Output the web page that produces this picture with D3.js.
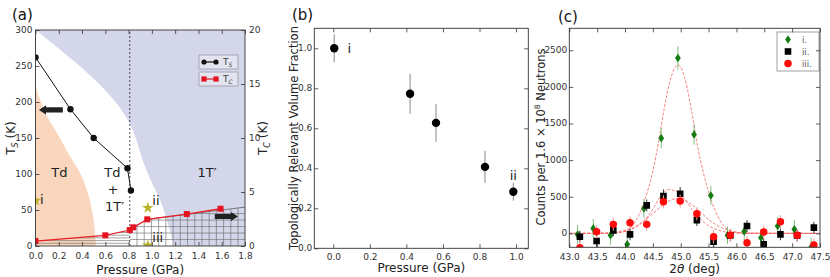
<!DOCTYPE html>
<html>
<head>
<meta charset="utf-8">
<script src="https://cdn.jsdelivr.net/npm/d3@7"></script>
<style>
  body { margin: 0; background: #fff; }
  svg { display: block; font-family: "DejaVu Sans", sans-serif; }
  .tick text { fill: #333; font-size: 9px; font-family: "DejaVu Sans", sans-serif; }
  .tick line { stroke: #333; stroke-width: 0.8; }
</style>
</head>
<body>
<svg id="chart" width="830" height="277"></svg>
<script>
// ---- panel (a): phase diagram ----
const tsPressure = [0.0, 0.3, 0.5, 0.79, 0.82];
const tsValues = [262, 190, 150, 108, 77];
const tcPressure = [0.0, 0.6, 0.81, 0.84, 0.96, 1.3, 1.59];
const tcValues = [0.46, 0.99, 1.48, 1.73, 2.47, 2.96, 3.45];
const starPressure = [0.0, 0.965, 0.965];
const starTemps = [63, 53, 1];
// phase boundaries, [pressure, T_S]
const orangeEdge = [[0, 222], [0.04, 203], [0.1, 180], [0.17, 161], [0.28, 129], [0.41, 92], [0.49, 46], [0.52, 0]];
const blueEdge = [[0, 300], [0.81, 170], [0.85, 155], [0.93, 115], [1.0, 88], [1.06, 68], [1.13, 36], [1.19, 0]];
// upper edge of the grid hatched area, [pressure, T_C]
const gridTop = [[0.81, 1.48], [0.84, 1.73], [0.96, 2.47], [1.8, 3.6]];
const transitionP = 0.81;

// ---- panel (b): volume fraction ----
const fracPressure = [0.005, 0.42, 0.562, 0.83, 0.985];
const fracValues = [1.0, 0.773, 0.627, 0.407, 0.283];
const fracErrors = [0.07, 0.1, 0.095, 0.08, 0.045];
const fracLabels = ["i", "", "", "", "ii"];

// ---- panel (c): neutron counts ----
const thetaI = [43.15, 43.43, 43.74, 44.04, 44.34, 44.65, 44.95, 45.24, 45.54, 45.84, 46.14, 46.44, 46.74, 47.04, 47.34];
const thetaII = [43.19, 43.49, 43.79, 44.09, 44.39, 44.69, 44.99, 45.29, 45.59, 45.89, 46.19, 46.49, 46.79, 47.09, 47.39];
const countsI = [-15, 68, -25, -150, 340, 1300, 2395, 1350, 518, -25, 27, -60, 100, 55, -190];
const countsII = [-45, -105, 41, -14, 382, 509, 541, 181, -113, -27, 100, -150, -14, -27, 78];
const countsIII = [-195, 23, 123, 146, 123, 432, 441, 268, -45, -27, -127, 18, 160, -27, -160];
const errI = [130, 130, 130, 120, 130, 140, 160, 140, 130, 120, 120, 120, 130, 130, 130];
const errII = [80, 80, 80, 80, 80, 90, 90, 80, 80, 80, 80, 80, 80, 80, 80];
const errIII = [90, 90, 90, 90, 90, 90, 90, 90, 90, 90, 90, 90, 90, 90, 90];
// fitted peaks, [2theta, counts]
const fitI = [[43.0, 0], [43.7, 0], [43.9, 10], [44.05, 50], [44.2, 180], [44.35, 450], [44.5, 850], [44.6, 1240], [44.7, 1690], [44.8, 2060], [44.95, 2300], [45.1, 2040], [45.2, 1650], [45.3, 1200], [45.4, 850], [45.55, 450], [45.7, 180], [45.85, 50], [46.0, 10], [46.2, 0], [47.5, 0]];
const fitII = [[43.0, 0], [43.6, 2], [43.9, 15], [44.1, 50], [44.3, 140], [44.5, 330], [44.65, 520], [44.78, 600], [44.9, 580], [45.05, 490], [45.2, 330], [45.35, 200], [45.5, 105], [45.65, 50], [45.85, 15], [46.2, 2], [47.5, 0]];
const fitIII = [[43.0, 0], [43.6, 5], [43.9, 25], [44.1, 65], [44.3, 150], [44.5, 270], [44.7, 400], [44.92, 475], [45.1, 440], [45.3, 330], [45.5, 190], [45.7, 90], [45.9, 35], [46.2, 5], [47.5, 0]];

const svg = d3.select("#chart");
const defs = svg.append("defs");

function drawAxes(x, y, o) {
	let g = svg.append("g");
	g.append("g")
		.attr("transform", "translate(0," + y.range()[0] + ")")
		.call(d3.axisBottom(x).tickValues(o.xTicks).tickFormat(o.xFormat).tickSizeInner(-4).tickSizeOuter(0).tickPadding(o.xPad || 5));
	g.append("g")
		.attr("transform", "translate(0," + y.range()[1] + ")")
		.call(d3.axisTop(x).tickValues(o.xTicks).tickFormat("").tickSizeInner(-4).tickSizeOuter(0));
	let left = g.append("g")
		.attr("transform", "translate(" + x.range()[0] + ",0)")
		.call(d3.axisLeft(y).tickValues(o.yTicks).tickFormat(o.yFormat).tickSizeInner(-4).tickSizeOuter(0).tickPadding(o.yPad || 3));
	let right = g.append("g")
		.attr("transform", "translate(" + x.range()[1] + ",0)")
		.call(d3.axisRight(o.y2 || y).tickValues(o.y2Ticks || o.yTicks).tickFormat(o.y2 ? o.y2Format : "").tickSizeInner(-4).tickSizeOuter(0).tickPadding(4));
	left.selectAll("text").attr("dy", "0.25em");
	right.selectAll("text").attr("dy", "0.25em");
	g.selectAll(".domain").remove();
	g.append("rect")
		.attr("x", x.range()[0]).attr("y", y.range()[1])
		.attr("width", x.range()[1] - x.range()[0])
		.attr("height", y.range()[0] - y.range()[1])
		.attr("fill", "none").attr("stroke", "#333").attr("stroke-width", 0.9);
	return g;
}

function clipRect(id, x, y) {
	defs.append("clipPath").attr("id", id).append("rect")
		.attr("x", x.range()[0]).attr("y", y.range()[1])
		.attr("width", x.range()[1] - x.range()[0])
		.attr("height", y.range()[0] - y.range()[1]);
}

function panelLabel(text, px, py) {
	svg.append("text").attr("x", px).attr("y", py)
		.attr("font-size", 15).attr("fill", "#111").text(text);
}

// ================= panel (a) =================
const xA = d3.scaleLinear().domain([0, 1.8]).range([35.5, 245]);
const yA = d3.scaleLinear().domain([0, 300]).range([246, 30]);
const yTc = d3.scaleLinear().domain([0, 20]).range([246, 30]);
clipRect("clipA", xA, yA);

const gA = svg.append("g").attr("clip-path", "url(#clipA)");
const toPx = d => [xA(d[0]), yA(d[1])];
const toPxTc = d => [xA(d[0]), yTc(d[1])];

// lavender 1T' region
gA.append("path")
	.attr("d", d3.line().curve(d3.curveMonotoneY)(blueEdge.map(toPx)) + "L" + xA(1.8) + "," + yA(0) + "L" + xA(1.8) + "," + yA(300) + "Z")
	.attr("fill", "#d4d6ea");

// peach Td region
gA.append("path")
	.attr("d", "M" + xA(0) + "," + yA(0) + "L" + d3.line().curve(d3.curveCatmullRom)(orangeEdge.map(toPx)).slice(1) + "Z")
	.attr("fill", "#f9d6bd");

// horizontal hatch below T_C (0 - 0.81 GPa)
let leftHatch = [[0, 0]].concat(tcPressure.slice(0, 3).map((p, i) => [p, tcValues[i]])).concat([[transitionP, 0]]);
defs.append("clipPath").attr("id", "hatchL").append("path")
	.attr("d", d3.line()(leftHatch.map(toPxTc)) + "Z");
gA.append("g").attr("clip-path", "url(#hatchL)")
	.selectAll("line").data(d3.range(0.25, 1.6, 0.25)).join("line")
	.attr("x1", xA(0)).attr("x2", xA(transitionP))
	.attr("y1", d => yTc(d)).attr("y2", d => yTc(d))
	.attr("stroke", "#666").attr("stroke-width", 0.6);

// grid hatch below T_C (0.81 - 1.8 GPa)
let rightHatch = gridTop.concat([[1.8, 0], [transitionP, 0]]);
defs.append("clipPath").attr("id", "hatchR").append("path")
	.attr("d", d3.line()(rightHatch.map(toPxTc)) + "Z");
let gridG = gA.append("g").attr("clip-path", "url(#hatchR)");
gridG.selectAll("line.v").data(d3.range(1, 16).map(k => transitionP + k * 0.062)).join("line")
	.attr("class", "v")
	.attr("x1", d => xA(d)).attr("x2", d => xA(d))
	.attr("y1", yTc(0)).attr("y2", yTc(4))
	.attr("stroke", "#666").attr("stroke-width", 0.6);
gridG.selectAll("line.h").data(d3.range(0.6, 4, 0.6)).join("line")
	.attr("class", "h")
	.attr("x1", xA(transitionP)).attr("x2", xA(1.8))
	.attr("y1", d => yTc(d)).attr("y2", d => yTc(d))
	.attr("stroke", "#666").attr("stroke-width", 0.6);
gA.append("path")
	.attr("d", d3.line()(gridTop.slice(2).map(toPxTc)))
	.attr("fill", "none").attr("stroke", "#555").attr("stroke-width", 0.7);

// dashed transition line
gA.append("line")
	.attr("x1", xA(transitionP)).attr("x2", xA(transitionP))
	.attr("y1", yA(0)).attr("y2", yA(300))
	.attr("stroke", "#222").attr("stroke-width", 0.8).attr("stroke-dasharray", "2,2");

// T_S line + markers
let tsData = tsPressure.map((p, i) => [p, tsValues[i]]);
gA.append("path").attr("d", d3.line()(tsData.map(toPx)))
	.attr("fill", "none").attr("stroke", "#111").attr("stroke-width", 1);
gA.selectAll("circle.ts").data(tsData).join("circle")
	.attr("class", "ts")
	.attr("cx", d => xA(d[0])).attr("cy", d => yA(d[1])).attr("r", 3.2)
	.attr("fill", "#111");

// T_C line + markers
let tcData = tcPressure.map((p, i) => [p, tcValues[i]]);
gA.append("path").attr("d", d3.line()(tcData.map(toPxTc)))
	.attr("fill", "none").attr("stroke", "#e8202a").attr("stroke-width", 1.3);
gA.selectAll("rect.tc").data(tcData).join("rect")
	.attr("class", "tc")
	.attr("x", d => xA(d[0]) - 3).attr("y", d => yTc(d[1]) - 3)
	.attr("width", 6).attr("height", 6)
	.attr("fill", "#e3141f");

// stars
gA.selectAll("path.star").data(starPressure).join("path")
	.attr("class", "star")
	.attr("transform", (d, i) => "translate(" + xA(d) + "," + yA(starTemps[i]) + ")")
	.attr("d", d3.symbol().type(d3.symbolStar).size(42))
	.attr("fill", "#b9b42a");

// phase labels
const phaseText = [
	{t: "Td", p: 0.205, T: 96}, {t: "Td", p: 0.66, T: 96}, {t: "+", p: 0.665, T: 72},
	{t: "1T\u2032", p: 0.68, T: 49}, {t: "1T\u2032", p: 1.475, T: 96},
	{t: "i", p: 0.055, T: 58}, {t: "ii", p: 1.035, T: 57}, {t: "iii", p: 1.05, T: 5}
];
svg.selectAll("text.phase").data(phaseText).join("text")
	.attr("class", "phase")
	.attr("x", d => xA(d.p)).attr("y", d => yA(d.T))
	.attr("text-anchor", "middle").attr("font-size", 13).attr("fill", "#222")
	.text(d => d.t);

// block arrows
function blockArrow(x0, x1, yc) {
	let dir = x1 > x0 ? 1 : -1, head = 7 * dir;
	let pts = [[x0, yc - 2.6], [x1 - head, yc - 2.6], [x1 - head, yc - 4.6], [x1, yc], [x1 - head, yc + 4.6], [x1 - head, yc + 2.6], [x0, yc + 2.6]];
	svg.append("path").attr("d", d3.line()(pts) + "Z").attr("fill", "#222");
}
blockArrow(xA(0.235), xA(0.03), yA(189));
blockArrow(xA(1.54), xA(1.74), yTc(2.73));

// legend (a)
const legendA = [{label: "S", color: "#111", shape: "circle"}, {label: "C", color: "#e3141f", shape: "square"}];
legendA.forEach(function(d, i) {
	let y0 = 55 + i * 17;
	let g = svg.append("g");
	g.append("rect").attr("x", 199).attr("y", y0).attr("width", 39).attr("height", 14)
		.attr("fill", "#e3e4ef").attr("stroke", "#9a9aa5").attr("stroke-width", 0.8);
	g.append("line").attr("x1", 204).attr("x2", 216).attr("y1", y0 + 7).attr("y2", y0 + 7)
		.attr("stroke", d.color).attr("stroke-width", 1.2);
	[204, 216].forEach(function(cx) {
		if (d.shape === "circle") g.append("circle").attr("cx", cx).attr("cy", y0 + 7).attr("r", 2.6).attr("fill", d.color);
		else g.append("rect").attr("x", cx - 2.6).attr("y", y0 + 4.4).attr("width", 5.2).attr("height", 5.2).attr("fill", d.color);
	});
	let t = g.append("text").attr("x", 223).attr("y", y0 + 10).attr("font-size", 9).attr("fill", "#444").text("T");
	t.append("tspan").attr("font-size", 6).attr("font-style", "italic").attr("dy", 2).text(d.label);
});

drawAxes(xA, yA, {
	xTicks: d3.range(0, 1.81, 0.2), xFormat: d3.format(".1f"), xPad: 7,
	yTicks: d3.range(0, 301, 50), yFormat: d3.format("d"),
	y2: yTc, y2Ticks: [0, 5, 10, 15, 20], y2Format: d3.format("d")
});

let laA = svg.append("text").attr("transform", "translate(15,138) rotate(-90)")
	.attr("text-anchor", "middle").attr("font-size", 12).attr("fill", "#222");
laA.append("tspan").text("T");
laA.append("tspan").attr("font-size", 8).attr("font-style", "italic").attr("dy", 3).text("S");
laA.append("tspan").attr("dy", -3).text(" (K)");
let laA2 = svg.append("text").attr("transform", "translate(267,138) rotate(-90)")
	.attr("text-anchor", "middle").attr("font-size", 12).attr("fill", "#222");
laA2.append("tspan").text("T");
laA2.append("tspan").attr("font-size", 8).attr("font-style", "italic").attr("dy", 3).text("C");
laA2.append("tspan").attr("dy", -3).text(" (K)");
svg.append("text").attr("x", (xA.range()[0] + xA.range()[1]) / 2).attr("y", 273.5)
	.attr("text-anchor", "middle").attr("font-size", 12).attr("fill", "#222").text("Pressure (GPa)");
panelLabel("(a)", 12, 20);

// ================= panel (b) =================
const xB = d3.scaleLinear().domain([-0.104, 1.067]).range([314.3, 528.3]);
const yB = d3.scaleLinear().domain([0, 1.1]).range([248.3, 28.3]);
const gB = svg.append("g");
gB.selectAll("line.err").data(fracPressure).join("line")
	.attr("class", "err")
	.attr("x1", d => xB(d)).attr("x2", d => xB(d))
	.attr("y1", (d, i) => yB(fracValues[i] - fracErrors[i]))
	.attr("y2", (d, i) => yB(fracValues[i] + fracErrors[i]))
	.attr("stroke", "#888").attr("stroke-width", 1);
gB.selectAll("circle").data(fracPressure).join("circle")
	.attr("cx", d => xB(d)).attr("cy", (d, i) => yB(fracValues[i])).attr("r", 4.2)
	.attr("fill", "#000");
gB.selectAll("text").data(fracPressure).join("text")
	.attr("x", (d, i) => xB(d) + (i === 0 ? 15 : 0))
	.attr("y", (d, i) => yB(fracValues[i]) + (i === 0 ? 5 : -12))
	.attr("text-anchor", "middle").attr("font-size", 13).attr("fill", "#222")
	.text((d, i) => fracLabels[i]);

drawAxes(xB, yB, {
	xTicks: d3.range(0, 1.01, 0.2), xFormat: d3.format(".1f"),
	yTicks: d3.range(0, 1.01, 0.2), yFormat: d3.format(".1f"), yPad: 2
});
svg.append("text").attr("transform", "translate(298,138) rotate(-90)")
	.attr("text-anchor", "middle").attr("font-size", 11.5).attr("fill", "#222")
	.text("Topologically Relevant Volume Fraction");
svg.append("text").attr("x", (xB.range()[0] + xB.range()[1]) / 2).attr("y", 272)
	.attr("text-anchor", "middle").attr("font-size", 12).attr("fill", "#222").text("Pressure (GPa)");
panelLabel("(b)", 292, 20);

// ================= panel (c) =================
const xC = d3.scaleLinear().domain([43, 47.5]).range([569.3, 820]);
const yC = d3.scaleLinear().domain([-190, 2800]).range([247.3, 28.3]);
clipRect("clipC", xC, yC);
const gC = svg.append("g").attr("clip-path", "url(#clipC)");

const fitLine = d3.line().curve(d3.curveMonotoneX).x(d => xC(d[0])).y(d => yC(d[1]));
[fitI, fitII, fitIII].forEach(function(f) {
	gC.append("path").attr("d", fitLine(f))
		.attr("fill", "none").attr("stroke", "#f04848").attr("stroke-width", 0.8)
		.attr("stroke-dasharray", "3,1.5").attr("opacity", 0.85);
});

const diamond = "M0,-4.3L2.9,0L0,4.3L-2.9,0Z";
const square = "M-3.3,-3.3H3.3V3.3H-3.3Z";
const circle = d3.symbol().type(d3.symbolCircle).size(44)();
const seriesC = [
	{theta: thetaI, counts: countsI, err: errI, color: "#137d13", errColor: "#7fc07f", shape: diamond},
	{theta: thetaII, counts: countsII, err: errII, color: "#000", errColor: "#333", shape: square},
	{theta: thetaII, counts: countsIII, err: errIII, color: "#ff0a0a", errColor: "#f59a9a", shape: circle}
];
seriesC.forEach(function(s) {
	let g = gC.append("g");
	g.selectAll("line").data(s.theta).join("line")
		.attr("x1", d => xC(d)).attr("x2", d => xC(d))
		.attr("y1", (d, i) => yC(s.counts[i] - s.err[i]))
		.attr("y2", (d, i) => yC(s.counts[i] + s.err[i]))
		.attr("stroke", s.errColor).attr("stroke-width", 1);
	g.selectAll("path").data(s.theta).join("path")
		.attr("transform", (d, i) => "translate(" + xC(d) + "," + yC(s.counts[i]) + ")")
		.attr("d", s.shape)
		.attr("fill", s.color);
});

// legend (c)
const legendC = ["i.", "ii.", "iii."];
let lg = svg.append("g");
lg.append("rect").attr("x", 777).attr("y", 32).attr("width", 42).attr("height", 39)
	.attr("fill", "#fff").attr("stroke", "#888").attr("stroke-width", 0.8);
legendC.forEach(function(label, i) {
	let s = seriesC[i], cy = 39.5 + i * 12;
	lg.append("path").attr("transform", "translate(788," + cy + ")")
		.attr("d", s.shape).attr("fill", s.color);
	lg.append("text").attr("x", 802).attr("y", cy + 3).attr("font-size", 8.5).attr("fill", "#555").text(label);
});

drawAxes(xC, yC, {
	xTicks: d3.range(43, 47.51, 0.5), xFormat: d3.format(".1f"), xPad: 6,
	yTicks: d3.range(0, 2501, 500), yFormat: d3.format("d"), yPad: 2
});
let laC = svg.append("text").attr("transform", "translate(545,137) rotate(-90)")
	.attr("text-anchor", "middle").attr("font-size", 11.5).attr("fill", "#222");
laC.append("tspan").text("Counts per 1.6 \u00d7 10");
laC.append("tspan").attr("font-size", 7.5).attr("dy", -5).text("8");
laC.append("tspan").attr("dy", 5).text(" Neutrons");
let lxC = svg.append("text").attr("x", (xC.range()[0] + xC.range()[1]) / 2).attr("y", 273)
	.attr("text-anchor", "middle").attr("font-size", 12).attr("fill", "#222");
lxC.append("tspan").text("2");
lxC.append("tspan").attr("font-style", "italic").text("\u03b8");
lxC.append("tspan").text(" (deg)");
panelLabel("(c)", 558, 22);
</script>
</body>
</html>
